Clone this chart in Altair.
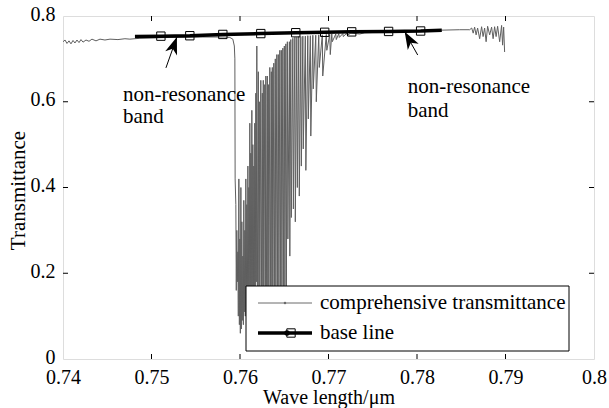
import altair as alt
import pandas as pd

# ---------------- data ----------------
# comprehensive transmittance: [wavelength (um), transmittance]
seg_left = [
    [0.74000, 0.740], [0.74023, 0.744], [0.74045, 0.736], [0.74068, 0.742], [0.74090, 0.735],
    [0.74113, 0.743], [0.74135, 0.737], [0.74158, 0.744], [0.74181, 0.738], [0.74203, 0.745],
    [0.74226, 0.739], [0.74260, 0.744], [0.74294, 0.741], [0.74327, 0.746], [0.74373, 0.742],
    [0.74418, 0.746], [0.74474, 0.744], [0.74531, 0.746], [0.74621, 0.745], [0.74700, 0.747],
    [0.74756, 0.746], [0.74869, 0.748], [0.75208, 0.750], [0.75547, 0.751], [0.75829, 0.751],
    [0.75885, 0.750], [0.75919, 0.746], [0.75936, 0.730],
]
seg_drop = [
    [0.75942, 0.700], [0.75945, 0.420], [0.75953, 0.360], [0.75958, 0.160], [0.75964, 0.300],
    [0.75970, 0.180], [0.75976, 0.250], [0.75981, 0.100], [0.75987, 0.420], [0.75993, 0.080],
    [0.75998, 0.280], [0.76004, 0.060], [0.76010, 0.400], [0.76015, 0.070], [0.76021, 0.320],
    [0.76026, 0.090], [0.76032, 0.240], [0.76038, 0.080], [0.76043, 0.370], [0.76049, 0.110],
    [0.76055, 0.300], [0.76060, 0.100], [0.76066, 0.420], [0.76072, 0.130], [0.76077, 0.360],
    [0.76083, 0.120], [0.76089, 0.450], [0.76094, 0.150], [0.76100, 0.400], [0.76105, 0.120],
    [0.76111, 0.550], [0.76117, 0.170], [0.76122, 0.480], [0.76128, 0.140], [0.76134, 0.580],
    [0.76139, 0.160], [0.76145, 0.500], [0.76151, 0.130], [0.76156, 0.450], [0.76162, 0.170],
    [0.76167, 0.550], [0.76173, 0.150], [0.76179, 0.620], [0.76184, 0.180], [0.76190, 0.730],
    [0.76196, 0.150],
]
seg_osc = [
    [0.76207, 0.670], [0.76213, 0.120], [0.76218, 0.600], [0.76224, 0.140], [0.76235, 0.650],
    [0.76241, 0.120], [0.76252, 0.620], [0.76258, 0.150], [0.76263, 0.650], [0.76269, 0.130],
    [0.76280, 0.640], [0.76286, 0.140], [0.76292, 0.660], [0.76297, 0.120], [0.76309, 0.660],
    [0.76314, 0.150], [0.76320, 0.640], [0.76326, 0.130], [0.76337, 0.680], [0.76343, 0.140],
    [0.76354, 0.670], [0.76360, 0.160], [0.76365, 0.680], [0.76371, 0.130], [0.76382, 0.690],
    [0.76388, 0.150], [0.76399, 0.700], [0.76405, 0.140], [0.76416, 0.710], [0.76422, 0.160],
    [0.76433, 0.710], [0.76439, 0.150], [0.76450, 0.720], [0.76456, 0.160], [0.76467, 0.720],
    [0.76473, 0.150], [0.76484, 0.725], [0.76490, 0.170], [0.76501, 0.730], [0.76507, 0.160],
    [0.76518, 0.735], [0.76524, 0.170], [0.76535, 0.740], [0.76541, 0.280], [0.76558, 0.740],
    [0.76563, 0.240], [0.76574, 0.745], [0.76580, 0.330], [0.76597, 0.748], [0.76603, 0.350],
    [0.76620, 0.750], [0.76625, 0.320], [0.76642, 0.750], [0.76648, 0.400], [0.76664, 0.752],
    [0.76670, 0.380], [0.76687, 0.752], [0.76693, 0.450], [0.76710, 0.753], [0.76715, 0.490],
    [0.76738, 0.753], [0.76744, 0.440], [0.76766, 0.754], [0.76772, 0.560], [0.76795, 0.754],
    [0.76800, 0.520], [0.76823, 0.755], [0.76828, 0.630], [0.76856, 0.755], [0.76862, 0.600],
    [0.76890, 0.756], [0.76896, 0.680], [0.76930, 0.756], [0.76935, 0.660], [0.76975, 0.757],
    [0.76981, 0.720], [0.77014, 0.757], [0.77020, 0.710], [0.77037, 0.758], [0.77043, 0.740],
    [0.77082, 0.758], [0.77088, 0.745], [0.77116, 0.759], [0.77122, 0.750], [0.77162, 0.759],
    [0.77167, 0.752], [0.77206, 0.760], [0.77212, 0.755], [0.77252, 0.760],
]
seg_right = [
    [0.77353, 0.758], [0.77410, 0.761], [0.77579, 0.762], [0.77805, 0.763], [0.78031, 0.765],
    [0.78279, 0.767], [0.78482, 0.768], [0.78595, 0.768], [0.78618, 0.772], [0.78635, 0.760],
    [0.78651, 0.774], [0.78668, 0.756], [0.78685, 0.772], [0.78708, 0.747], [0.78730, 0.775],
    [0.78747, 0.752], [0.78764, 0.772], [0.78781, 0.740], [0.78798, 0.776], [0.78821, 0.756],
    [0.78843, 0.774], [0.78860, 0.747], [0.78877, 0.775], [0.78894, 0.752], [0.78911, 0.776],
    [0.78934, 0.740], [0.78956, 0.778], [0.78967, 0.732], [0.78979, 0.774], [0.78990, 0.716],
]

# base line
base_wl = [0.74813, 0.75106, 0.75433, 0.75806, 0.76235, 0.76630, 0.76957, 0.77262, 0.77679, 0.78041, 0.78280]
base_T = [0.752, 0.753, 0.754, 0.757, 0.759, 0.761, 0.762, 0.763, 0.764, 0.765, 0.767]
base_marker = [False, True, True, True, True, True, True, True, True, True, False]

# annotations
ann_text_wl = [0.74677, 0.74677, 0.77895, 0.77895]
ann_text_T = [0.602, 0.550, 0.621, 0.565]
ann_text = ["non-resonance", "band", "non-resonance", "band"]
arrow_tail_wl = [0.75163, 0.78008]
arrow_tail_T = [0.679, 0.709]
arrow_tip_wl = [0.75287, 0.77861]
arrow_tip_T = [0.751, 0.763]
arrow_angle = [19.5, 330.5]

x_ticks = [0.74, 0.75, 0.76, 0.77, 0.78, 0.79, 0.8]
y_ticks = [0, 0.2, 0.4, 0.6, 0.8]
x_inner_ticks = [0.75, 0.76, 0.77, 0.78, 0.79]
y_inner_ticks = [0.2, 0.4, 0.6]

# ---------------- build ----------------
rows = seg_left + seg_drop + seg_osc + seg_right
curve = pd.DataFrame({"wl": [r[0] for r in rows], "T": [r[1] for r in rows], "i": list(range(len(rows)))})
base = pd.DataFrame({"wl": base_wl, "T": base_T, "m": base_marker})
texts = pd.DataFrame({"wl": ann_text_wl, "T": ann_text_T, "t": ann_text})
arrows = pd.DataFrame({"wl": arrow_tail_wl, "T": arrow_tail_T, "wl2": arrow_tip_wl, "T2": arrow_tip_T})
heads = pd.DataFrame({"wl": arrow_tip_wl, "T": arrow_tip_T, "ang": arrow_angle})
xt = pd.DataFrame({"wl": x_inner_ticks})
yt = pd.DataFrame({"T": y_inner_ticks})
one = pd.DataFrame({"a": [0]})

W, H = 531, 343
FONT = "'Liberation Serif', 'Times New Roman', Times, serif"
FS = 21
TFS = 20

xs = alt.Scale(domain=[0.74, 0.8], nice=False, zero=False)
ys = alt.Scale(domain=[0, 0.8], nice=False, zero=False)
xaxis = alt.Axis(values=x_ticks, labelExpr="format(datum.value, '~g')", title="Wave length/\u03bcm",
                 grid=False, ticks=False, domain=False, labelPadding=8, labelFontSize=TFS,
                 labelFont=FONT, titleFont=FONT,
                 labelColor="black", titleFontSize=TFS, titleFontWeight="normal", titleColor="black",
                 titleBaseline="alphabetic", titleY=44, labelFlush=False, labelOverlap=False)
yaxis = alt.Axis(values=y_ticks, labelExpr="format(datum.value, '~g')", title="Transmittance",
                 grid=False, ticks=False, domain=False, labelPadding=8, labelFontSize=TFS,
                 labelOffset=-2,
                 labelFont=FONT, titleFont=FONT,
                 labelColor="black", titleFontSize=FS, titleFontWeight="normal", titleColor="black",
                 titleBaseline="alphabetic", titleX=-39, titleY=174, titleAngle=270,
                 labelFlush=False, labelOverlap=False)

X = alt.X("wl:Q", scale=xs, axis=xaxis)
Y = alt.Y("T:Q", scale=ys, axis=yaxis)

line = alt.Chart(curve).mark_line(color="#5f5f5f", strokeWidth=1, clip=True).encode(
    x=X, y=Y, order="i:Q")

bline = alt.Chart(base).mark_line(color="black", strokeWidth=3.5, clip=True).encode(x=X, y=Y)
bpts = alt.Chart(base).transform_filter("datum.m").mark_point(
    shape="square", size=70, color="black", filled=False, strokeWidth=1, opacity=1).encode(x=X, y=Y)

txt = alt.Chart(texts).mark_text(align="left", baseline="alphabetic", font=FONT, fontSize=FS,
                                 color="black").encode(x=X, y=Y, text="t:N")
shafts = alt.Chart(arrows).mark_rule(color="black", strokeWidth=1).encode(
    x=X, y=Y, x2="wl2:Q", y2="T2:Q")
arrow_path = "M0,0L0.36,1L0,0.72L-0.36,1Z"
hd = alt.Chart(heads).mark_point(shape=arrow_path, size=1200, filled=True, color="black",
                                 opacity=1).encode(x=X, y=Y, angle=alt.Angle("ang:Q", scale=None))

# inward ticks on all four sides
tb = alt.Chart(xt).mark_rule(color="black", strokeWidth=1).encode(x=X, y=alt.value(H), y2=alt.value(H - 5))
tt = alt.Chart(xt).mark_rule(color="black", strokeWidth=1).encode(x=X, y=alt.value(0), y2=alt.value(5))
tl = alt.Chart(yt).mark_rule(color="black", strokeWidth=1).encode(y=Y, x=alt.value(0), x2=alt.value(5))
tr = alt.Chart(yt).mark_rule(color="black", strokeWidth=1).encode(y=Y, x=alt.value(W), x2=alt.value(W - 5))

# legend box
LX0, LX1, LY0, LY1 = 183, 506, 270, 335
lbox = alt.Chart(one).mark_rect(fill="white", stroke="black", strokeWidth=1).encode(
    x=alt.value(LX0), x2=alt.value(LX1), y=alt.value(LY0), y2=alt.value(LY1))
l1 = alt.Chart(one).mark_rule(color="#6a6a6a", strokeWidth=1).encode(
    x=alt.value(195), x2=alt.value(249), y=alt.value(287))
l1p = alt.Chart(one).mark_point(shape="circle", size=6, filled=True, color="#6a6a6a", opacity=1).encode(
    x=alt.value(222), y=alt.value(287))
l1t = alt.Chart(one).mark_text(text="comprehensive transmittance", align="left", baseline="middle",
                               font=FONT, fontSize=FS, color="black").encode(x=alt.value(257), y=alt.value(287))
l2 = alt.Chart(one).mark_rule(color="black", strokeWidth=3.5).encode(
    x=alt.value(195), x2=alt.value(249), y=alt.value(317))
l2d = alt.Chart(one).mark_point(shape="circle", size=30, filled=True, color="black", opacity=1).encode(
    x=alt.value(224), y=alt.value(317))
l2p = alt.Chart(one).mark_point(shape="square", size=70, filled=False, color="black", strokeWidth=1,
                                opacity=1).encode(x=alt.value(228), y=alt.value(317))
l2t = alt.Chart(one).mark_text(text="base line", align="left", baseline="middle",
                               font=FONT, fontSize=FS, color="black").encode(x=alt.value(257), y=alt.value(317))

chart = alt.layer(
    line, bline, bpts, shafts, hd, txt, tb, tt, tl, tr,
    lbox, l1, l1p, l1t, l2, l2d, l2p, l2t
).properties(
    width=W, height=H,
    autosize=alt.AutoSizeParams(type="none"),
    padding={"left": 63, "top": 16, "right": 15, "bottom": 49},
    background="white",
).configure_view(stroke="black", strokeWidth=1).configure(font=FONT).configure_axis(
    labelFont=FONT, titleFont=FONT).configure_text(font=FONT)

chart.save("out.html", embed_options={"renderer": "svg", "actions": False})
